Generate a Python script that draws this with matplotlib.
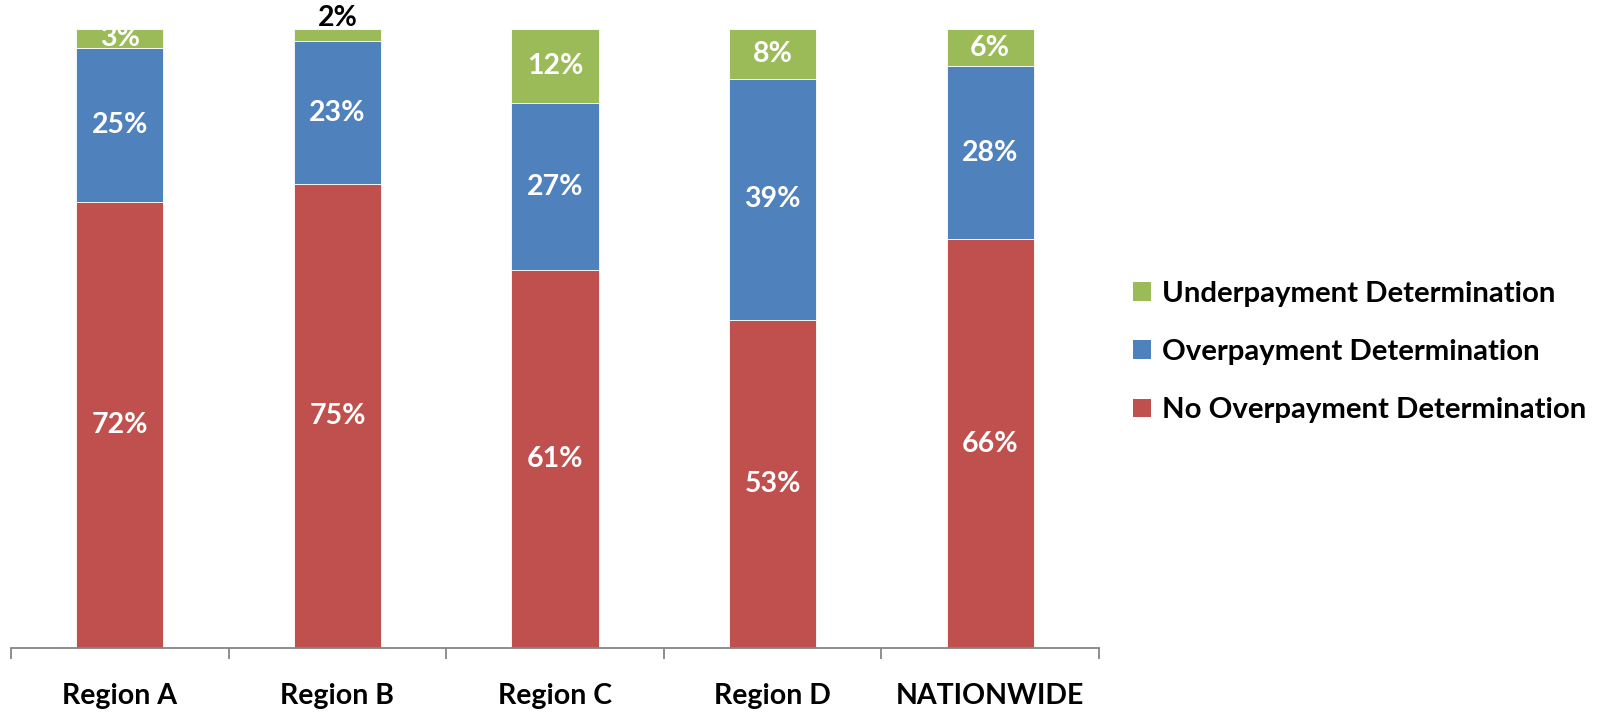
import matplotlib
matplotlib.use("Agg")
import matplotlib.pyplot as plt
from matplotlib.patches import Patch
import numpy as np

categories = ["Region A", "Region B", "Region C", "Region D", "NATIONWIDE"]
no_overpayment = [72, 75, 61, 53, 66]
overpayment = [25, 23, 27, 39, 28]
underpayment = [3, 2, 12, 8, 6]
series_names = ["No Overpayment Determination", "Overpayment Determination", "Underpayment Determination"]
colors = ["#C0504D", "#4F81BD", "#9BBB59"]

plt.rcParams['font.family'] = ['Lato', 'DejaVu Sans']
plt.rcParams['font.weight'] = 'bold'

fig = plt.figure(figsize=(15.99, 7.17), dpi=100)
ax = fig.add_axes([11/1599, 1 - 648/717, (1099 - 11)/1599, (648 - 29)/717])

x = np.arange(len(categories))
width = 0.40
series = [no_overpayment, overpayment, underpayment]
bottom = np.zeros(len(categories))
for vals, col, name in zip(series, colors, series_names):
    vals = np.array(vals, dtype=float)
    ax.bar(x, vals, width, bottom=bottom, color=col, edgecolor="white", linewidth=0.6, label=name)
    for i, v in enumerate(vals):
        cy = bottom[i] + v / 2
        if name.startswith("Under") and v < 3:
            ax.text(x[i], bottom[i] + v - 0.3, f"{int(v)}%", ha="center", va="bottom",
                    color="black", fontsize=20.5, fontweight="bold")
        else:
            ax.text(x[i], cy, f"{int(v)}%", ha="center", va="center",
                    color="white", fontsize=20.5, fontweight="bold")
    bottom += vals

ax.set_xlim(-0.5, len(categories) - 0.5)
ax.set_ylim(0, 100)
ax.set_yticks([])
for s in ["top", "right", "left"]:
    ax.spines[s].set_visible(False)
ax.spines["bottom"].set_color("#868686")
ax.spines["bottom"].set_linewidth(1.3)
ax.set_xticks(x)
ax.set_xticklabels(categories, fontsize=20.5, fontweight="bold")
ax.tick_params(axis="x", which="major", length=0, pad=25)
ax.set_xticks(np.arange(-0.5, len(categories)), minor=True)
ax.tick_params(axis="x", which="minor", length=7.7, width=1.3, color="#868686", direction="out")

handles = [Patch(facecolor=c, edgecolor="none") for c in colors[::-1]]
labels = series_names[::-1]
fig.legend(handles, labels, loc="center left", bbox_to_anchor=(1127/1599, 1 - 352/717),
           frameon=False, handlelength=0.6, handleheight=0.6, borderaxespad=0, borderpad=0.2,
           labelspacing=1.1, handletextpad=0.4, prop={'weight': 'bold', 'size': 21.2})

fig.savefig("out.png", dpi=100)
